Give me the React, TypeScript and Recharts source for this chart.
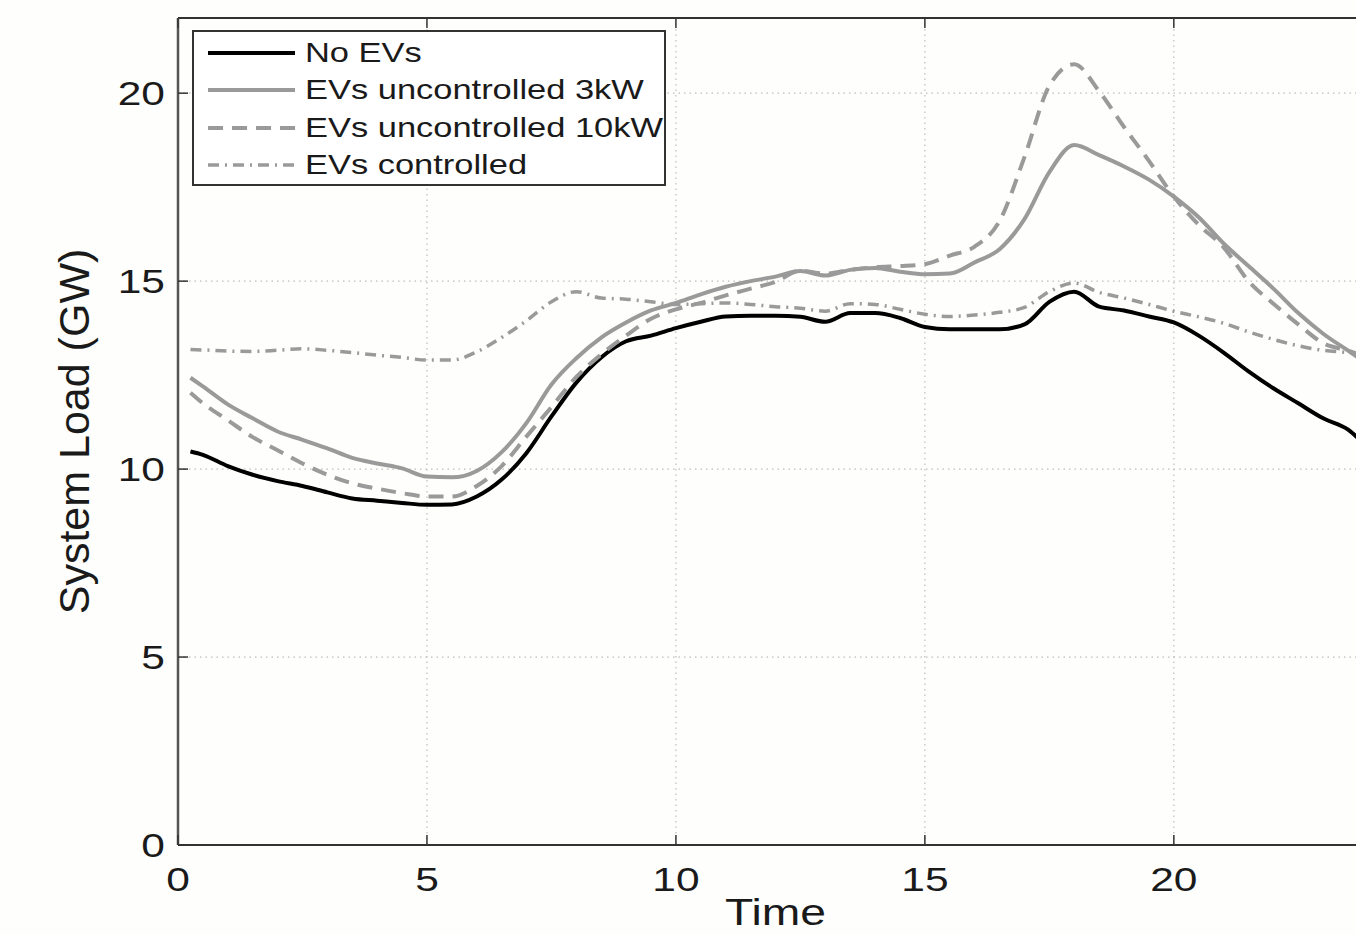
import React from 'react';
import { LineChart, Line, XAxis, YAxis, CartesianGrid, ReferenceLine, Legend } from 'recharts';

// ---------- data ----------
const TIME = [0.25, 0.5, 1, 1.5, 2, 2.5, 3, 3.5, 4, 4.5, 5, 5.5, 6, 6.5, 7, 7.5, 8, 8.5, 9, 9.5, 10, 10.5, 11, 11.5, 12, 12.5, 13, 13.5, 14, 14.5, 15, 15.5, 16, 16.5, 17, 17.5, 18, 18.5, 19, 19.5, 20, 20.5, 21, 21.5, 22, 22.5, 23, 23.5, 24];

const NO_EVS = [10.47, 10.38, 10.08, 9.85, 9.68, 9.55, 9.38, 9.22, 9.16, 9.1, 9.05, 9.06, 9.27, 9.72, 10.43, 11.4, 12.3, 12.97, 13.4, 13.55, 13.75, 13.92, 14.06, 14.08, 14.08, 14.05, 13.92, 14.15, 14.15, 14.02, 13.78, 13.72, 13.72, 13.72, 13.85, 14.45, 14.72, 14.32, 14.22, 14.06, 13.9, 13.55, 13.1, 12.6, 12.15, 11.75, 11.35, 11.05, 10.4];

const UNC_3KW = [12.43, 12.2, 11.72, 11.35, 11.0, 10.78, 10.55, 10.3, 10.15, 10.02, 9.8, 9.78, 9.95, 10.45, 11.23, 12.25, 12.95, 13.5, 13.9, 14.22, 14.42, 14.65, 14.85, 15.0, 15.12, 15.27, 15.15, 15.3, 15.35, 15.25, 15.18, 15.2, 15.5, 15.85, 16.65, 17.9, 18.62, 18.35, 18.05, 17.7, 17.25, 16.7, 16.0, 15.4, 14.8, 14.15, 13.6, 13.15, 12.7];

const UNC_10KW = [12.03, 11.75, 11.3, 10.85, 10.5, 10.15, 9.85, 9.62, 9.48, 9.36, 9.27, 9.27, 9.55, 10.08, 10.87, 11.65, 12.45, 13.05, 13.55, 14.0, 14.25, 14.42, 14.62, 14.8, 14.98, 15.28, 15.2, 15.3, 15.37, 15.4, 15.45, 15.68, 15.92, 16.6, 18.3, 20.2, 20.77, 20.05, 19.1, 18.2, 17.25, 16.5, 15.9, 15.0, 14.4, 13.85, 13.35, 13.15, 12.9];

const CONTROLLED = [13.18, 13.17, 13.14, 13.13, 13.16, 13.2, 13.16, 13.1, 13.03, 12.97, 12.9, 12.9, 13.12, 13.5, 13.95, 14.45, 14.72, 14.55, 14.52, 14.45, 14.38, 14.4, 14.42, 14.38, 14.32, 14.28, 14.2, 14.4, 14.38, 14.25, 14.12, 14.06, 14.1, 14.17, 14.3, 14.72, 14.95, 14.7, 14.55, 14.38, 14.2, 14.05, 13.88, 13.65, 13.45, 13.28, 13.16, 13.1, 13.0];

const SERIES_NAMES = ['No EVs', 'EVs uncontrolled 3kW', 'EVs uncontrolled 10kW', 'EVs controlled'];
const X_TICKS = [0, 5, 10, 15, 20];
const Y_TICKS = [0, 5, 10, 15, 20];
const X_DOMAIN: [number, number] = [0, 24];
const Y_DOMAIN: [number, number] = [0, 22];
const X_TITLE = 'Time';
const Y_TITLE = 'System Load (GW)';

const rows = TIME.map((t, i) => ({
  t,
  noEv: NO_EVS[i],
  unc3: UNC_3KW[i],
  unc10: UNC_10KW[i],
  ctrl: CONTROLLED[i],
}));

// ---------- styles / layout ----------
const FONT = '"Liberation Sans", Arial, Helvetica, sans-serif';
const AXIS_COLOR = '#333';
const TEXT_COLOR = '#1a1a1a';
const GREY = '#9a9a9a';
const CHART_W = 1400;
const CHART_H = 934;
const PLOT_LEFT = 178;
const PLOT_TOP = 18;
const PLOT_BOTTOM = 845;
const PLOT_RIGHT = 1373;
const TICK_LEN = 10;

const SERIES = [
  { key: 'noEv', name: SERIES_NAMES[0], color: '#000', width: 4, dash: undefined as string | undefined },
  { key: 'unc3', name: SERIES_NAMES[1], color: GREY, width: 4, dash: undefined as string | undefined },
  { key: 'unc10', name: SERIES_NAMES[2], color: GREY, width: 4, dash: '15 9' },
  { key: 'ctrl', name: SERIES_NAMES[3], color: GREY, width: 3.5, dash: '11 6 2 6' },
];

const XTick = (props: any) => {
  const { x, payload } = props;
  return (
    <g>
      <line x1={x} x2={x} y1={PLOT_BOTTOM} y2={PLOT_BOTTOM - TICK_LEN} stroke={AXIS_COLOR} strokeWidth={1.5} />
      <line x1={x} x2={x} y1={PLOT_TOP} y2={PLOT_TOP + TICK_LEN} stroke={AXIS_COLOR} strokeWidth={1.5} />
      <text
        transform={`translate(${x},${PLOT_BOTTOM + 46}) scale(1.25,1)`}
        textAnchor="middle"
        fontSize={34}
        fontFamily={FONT}
        fill={TEXT_COLOR}
      >
        {payload.value}
      </text>
    </g>
  );
};

const YTick = (props: any) => {
  const { y, payload } = props;
  return (
    <g>
      <line x1={PLOT_LEFT} x2={PLOT_LEFT + TICK_LEN} y1={y} y2={y} stroke={AXIS_COLOR} strokeWidth={1.5} />
      <line x1={PLOT_RIGHT} x2={PLOT_RIGHT - TICK_LEN} y1={y} y2={y} stroke={AXIS_COLOR} strokeWidth={1.5} />
      <text
        transform={`translate(${PLOT_LEFT - 13},${y + 12}) scale(1.25,1)`}
        textAnchor="end"
        fontSize={34}
        fontFamily={FONT}
        fill={TEXT_COLOR}
      >
        {payload.value}
      </text>
    </g>
  );
};

const XTitle = () => (
  <text
    transform={`translate(${(PLOT_LEFT + PLOT_RIGHT) / 2},${PLOT_BOTTOM + 80}) scale(1.25,1)`}
    textAnchor="middle"
    fontSize={37}
    fontFamily={FONT}
    fill={TEXT_COLOR}
  >
    {X_TITLE}
  </text>
);

const YTitle = () => {
  const cy = (PLOT_TOP + PLOT_BOTTOM) / 2;
  return (
    <text
      transform={`translate(89,${cy}) rotate(-90)`}
      textAnchor="middle"
      fontSize={43}
      fontFamily={FONT}
      fill={TEXT_COLOR}
    >
      {Y_TITLE}
    </text>
  );
};

const LegendBox = (props: any) => {
  const payload: any[] = [...(props.payload || [])];
  const order = (e: any) => SERIES.findIndex((q) => q.key === e.dataKey);
  payload.sort((a, b) => order(a) - order(b));
  return (
    <div
      style={{
        width: 474,
        height: 156,
        border: `2px solid ${AXIS_COLOR}`,
        background: '#fff',
        boxSizing: 'border-box',
        fontFamily: FONT,
        paddingTop: 2,
      }}
    >
      {payload.map((entry: any) => {
        const s = SERIES.find((q) => q.key === entry.dataKey) || SERIES[0];
        return (
          <div key={s.key} style={{ display: 'flex', alignItems: 'center', height: 37.5 }}>
            <svg width={97} height={10} style={{ marginLeft: 14, display: 'block' }}>
              <line x1={0} x2={87} y1={5} y2={5} stroke={s.color} strokeWidth={s.width} strokeDasharray={s.dash} />
            </svg>
            <span
              style={{
                fontSize: 28,
                lineHeight: '28px',
                color: TEXT_COLOR,
                whiteSpace: 'nowrap',
                display: 'inline-block',
                transform: 'scaleX(1.23)',
                transformOrigin: 'left center',
              }}
            >
              {entry.value}
            </span>
          </div>
        );
      })}
    </div>
  );
};

export default function App() {
  return (
    <div
      style={{
        position: 'fixed',
        left: 0,
        top: 0,
        width: 1356,
        height: 934,
        overflow: 'hidden',
        background: '#fefefc',
      }}
    >
      <LineChart
        width={CHART_W}
        height={CHART_H}
        data={rows}
        margin={{ top: PLOT_TOP, right: CHART_W - PLOT_RIGHT, bottom: CHART_H - PLOT_BOTTOM - 30, left: PLOT_LEFT - 60 }}
      >
        <CartesianGrid stroke="#bdbdbd" strokeWidth={1.2} strokeDasharray="1.5 4" />
        <XAxis
          dataKey="t"
          type="number"
          domain={X_DOMAIN}
          ticks={X_TICKS}
          height={30}
          tickSize={0}
          tickLine={false}
          axisLine={{ stroke: AXIS_COLOR, strokeWidth: 2 }}
          tick={<XTick />}
          label={<XTitle />}
          interval={0}
        />
        <YAxis
          type="number"
          domain={Y_DOMAIN}
          ticks={Y_TICKS}
          width={60}
          tickSize={0}
          tickLine={false}
          axisLine={{ stroke: '#555', strokeWidth: 2.5 }}
          tick={<YTick />}
          label={<YTitle />}
          interval={0}
        />
        <ReferenceLine y={Y_DOMAIN[1]} stroke={AXIS_COLOR} strokeWidth={2} />
        <ReferenceLine x={X_DOMAIN[1]} stroke={AXIS_COLOR} strokeWidth={2} />
        {SERIES.map((s) => (
          <Line
            key={s.key}
            dataKey={s.key}
            name={s.name}
            type="monotone"
            stroke={s.color}
            strokeWidth={s.width}
            strokeDasharray={s.dash}
            dot={false}
            activeDot={false}
            isAnimationActive={false}
          />
        ))}
        <Legend
          layout="vertical"
          align="center"
          verticalAlign="middle"
          content={<LegendBox />}
          wrapperStyle={{ position: 'absolute', left: 192, top: 30, width: 474, height: 156 }}
        />
      </LineChart>
    </div>
  );
}
